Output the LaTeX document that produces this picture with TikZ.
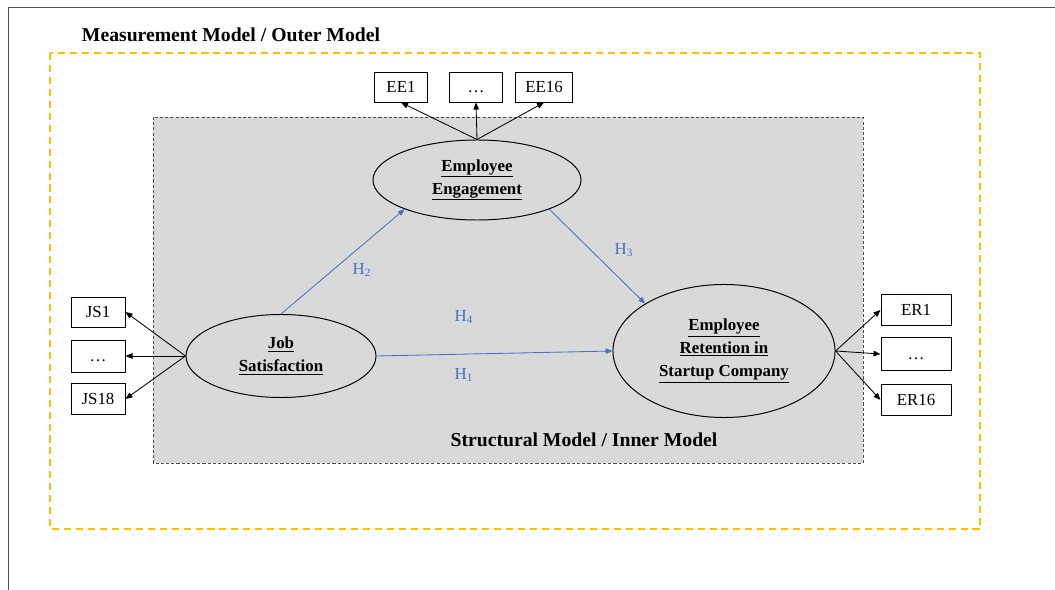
\documentclass[tikz,border=0pt]{standalone}
\usepackage{fontspec}
\setmainfont{Liberation Serif}
\usetikzlibrary{shapes.geometric, arrows.meta, positioning}

\definecolor{outeryellow}{HTML}{FFC000}
\definecolor{innergray}{HTML}{D9D9D9}
\definecolor{hypblue}{HTML}{4472C4}
\definecolor{pageedge}{HTML}{44546A}

\begin{document}
\begin{tikzpicture}[x=0.025cm, y=-0.025cm,
  latent/.style={ellipse, draw, line width=0.7pt, fill=innergray,
                 align=center, inner sep=0pt,
                 font=\bfseries\fontsize{12}{16.3}\selectfont},
  indicator/.style={rectangle, draw, fill=white, line width=0.7pt,
                 minimum height=0.75cm, text centered, inner sep=0pt,
                 text height=8pt, text depth=0pt,
                 font=\fontsize{12}{14}\selectfont},
  arrow/.style={-{Triangle[width=4pt,length=5pt]}, line width=0.6pt},
  harrow/.style={-{Triangle[width=3.8pt,length=4.8pt]}, line width=0.6pt, hypblue},
  hlabel/.style={text=hypblue, font=\fontsize{12}{14}\selectfont},
  frametitle/.style={font=\bfseries\fontsize{14}{16}\selectfont}
]

\useasboundingbox (0,0) rectangle (1055,590);
\fill[white] (0,0) rectangle (1055,590);
\draw[pageedge, line width=0.6pt] (8,590) -- (8,7) -- (1055,7);

%% --- Measurement model frame ---
\draw[outeryellow, line width=1.5pt, dash pattern=on 5pt off 3.5pt]
    (50,53) rectangle (980,529);
\node[frametitle] (outertitle) at (231,35) {Measurement Model / Outer Model};

%% --- Structural model frame ---
\draw[fill=innergray, draw=black!70, line width=0.6pt, dash pattern=on 2.2pt off 1.5pt]
    (153,117) rectangle (863,463);
\node[frametitle] (innertitle) at (584,440) {Structural Model / Inner Model};

%% --- Latent variables ---
\node[latent, minimum width=5.2cm, minimum height=2cm] (ee) at (477,180)
    {\underline{Employee}\\\underline{Engagement}};
\node[latent, minimum width=4.75cm, minimum height=2.075cm] (js) at (281,356)
    {\underline{Job}\\\underline{Satisfaction}};
\node[latent, minimum width=5.55cm, minimum height=3.325cm] (er) at (724,351)
    {\underline{Employee}\\\underline{Retention in}\\\underline{Startup Company}};

%% --- Indicators: Employee Engagement ---
\node[indicator, minimum width=1.325cm] (eedots) at (476,87) {\dots};
\node[indicator, minimum width=1.325cm, left=0.525cm of eedots] (ee1) {EE1};
\node[indicator, minimum width=1.425cm, right=0.3cm of eedots] (ee16) {EE16};

%% --- Indicators: Job Satisfaction ---
\node[indicator, minimum width=1.35cm, minimum height=0.8cm] (jsdots) at (98,356) {\dots};
\node[indicator, minimum width=1.35cm, above=0.3cm of jsdots] (js1) {JS1};
\node[indicator, minimum width=1.35cm, below=0.275cm of jsdots] (js18) {JS18};

%% --- Indicators: Employee Retention ---
\node[indicator, minimum width=1.75cm, minimum height=0.82cm] (erdots) at (916,354) {\dots};
\node[indicator, minimum width=1.75cm, minimum height=0.78cm, above=0.275cm of erdots] (er1) {ER1};
\node[indicator, minimum width=1.75cm, minimum height=0.78cm, below=0.325cm of erdots] (er16) {ER16};

%% --- Outer (measurement) arrows ---
\draw[arrow] (ee.north) -- (ee1.south);
\draw[arrow] (ee.north) -- (eedots.south);
\draw[arrow] (ee.north) -- (ee16.south);
\draw[arrow] (js.west) -- (js1.east);
\draw[arrow] (js.west) -- (jsdots.east);
\draw[arrow] (js.west) -- (js18.east);
\draw[arrow] (er.east) -- (er1.west);
\draw[arrow] (er.east) -- (erdots.west);
\draw[arrow] (er.east) -- (er16.west);

%% --- Inner (structural) paths ---
\draw[harrow] (js.north) -- (ee.202);
\draw[harrow] (ee.338) -- (er.149);
\draw[harrow] (js.east) -- (er.west);

%% --- Hypotheses ---
\node[hlabel] (h2) at (362,270) {H\textsubscript{2}};
\node[hlabel] (h3) at (624,250) {H\textsubscript{3}};
\node[hlabel] (h4) at (464,317) {H\textsubscript{4}};
\node[hlabel] (h1) at (464,375) {H\textsubscript{1}};

\end{tikzpicture}
\end{document}
